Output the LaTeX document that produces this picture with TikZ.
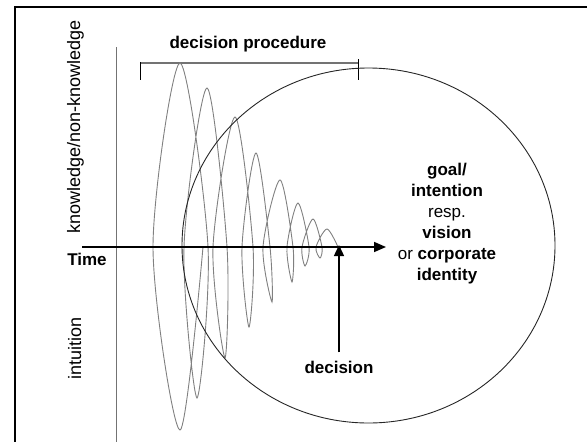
\documentclass[tikz,border=0pt]{standalone}
\usepackage{fontspec}
\setmainfont{Liberation Sans}
\usetikzlibrary{arrows.meta}
\begin{document}
\begin{tikzpicture}[x=1pt, y=-1pt,
    boldtext/.style={font=\fontsize{17}{21}\selectfont\bfseries, inner sep=0pt},
    plaintext/.style={font=\fontsize{18}{21}\selectfont, inner sep=0pt},
    loopline/.style={draw=black!50, line width=0.9pt},
    bigarrow/.style={line width=1.6pt, -{Triangle[length=12pt, width=10pt]}}
  ]
  \useasboundingbox (0,0) rectangle (587,442);

  % Frame
  \draw[line width=1.2pt] (15,442) -- (15,7) -- (587,7);

  % Vertical axis
  \draw[black!55, line width=1pt] (116,47) -- (116,442);
  \node[plaintext, rotate=90, anchor=base] (know) at (80,127) {knowledge/non-knowledge};
  \node[plaintext, rotate=90, anchor=base] (intu) at (81,348) {intuition};

  % Bracket over the decision procedure
  \draw[black!55, line width=1.6pt] (140,63) -- (358,63);
  \draw[line width=0.8pt] (140,62) -- (140,80);
  \draw[line width=0.8pt] (358,59) -- (358,80);
  \node[boldtext, anchor=base] (proc) at (248,48) {decision procedure};

  % Damped loops
  \draw[loopline] plot[smooth] coordinates {
    (203,247) (180,430) (153,247) (180,63) (208,247)
    (197,398) (184,247) (207,88) (227,247)
    (225,358) (213,247) (235,117) (253,247)
    (249,327) (242,247) (256,153) (270,247)
    (272,302) (263,247) (280,180) (293,247)
    (292,282) (287,247) (298,203) (309,247)
    (305,266) (302,247) (313,219) (322,247)
    (320,258) (316,247) (327,229) (338,247)};

  % Goal circle
  \draw[black!85, line width=0.9pt] (368.5,245.5) ellipse [x radius=186.5, y radius=177.5];
  \node[boldtext, align=center] (goal) at (447,224)
    {goal/\\intention\\{\mdseries resp.}\\vision\\{\mdseries or} corporate\\identity};

  % Time axis
  \coordinate (t0) at (82,247);
  \coordinate (t1) at (386,247);
  \draw[bigarrow] (t0) -- (t1);
  \node[boldtext, anchor=base] (time) at (87,265) {Time};

  % Decision
  \node[boldtext, anchor=base] (dec) at (339,373) {decision};
  \coordinate (dtip) at (339,245);
  \draw[line width=1.4pt, -{Triangle[length=11pt, width=10pt]}, shorten <=8pt] (dec.north) -- (dtip);
\end{tikzpicture}
\end{document}
